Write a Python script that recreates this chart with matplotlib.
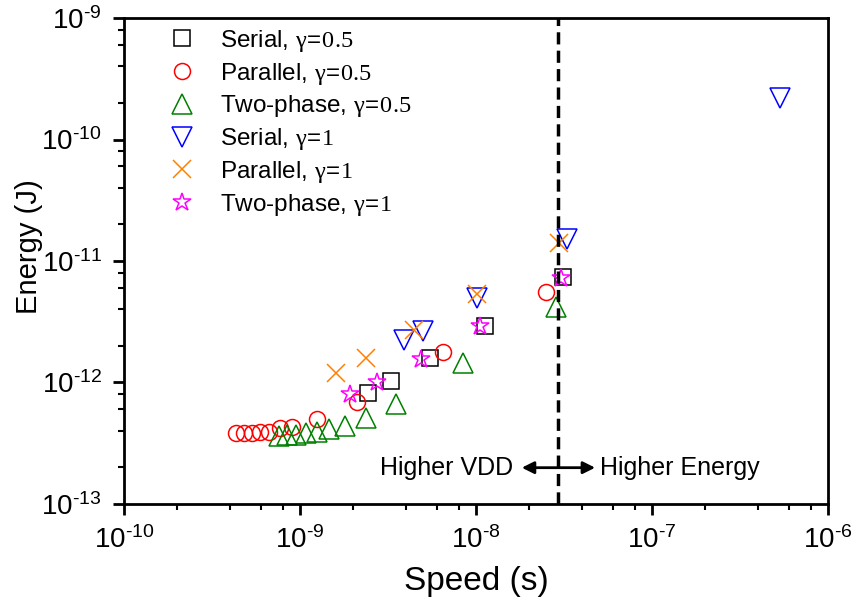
import math
import matplotlib
matplotlib.use("Agg")
import matplotlib.pyplot as plt
from matplotlib.ticker import LogLocator, NullFormatter, FuncFormatter

plt.rcParams["font.family"] = ["Liberation Sans", "DejaVu Sans"]
plt.rcParams["mathtext.fontset"] = "custom"
plt.rcParams["mathtext.rm"] = "Liberation Serif"
plt.rcParams["mathtext.default"] = "regular"

# speed (s) / energy (J)
serial_05_x = [2.43e-9, 3.29e-9, 5.48e-9, 1.12e-8, 3.12e-8]
serial_05_y = [8.15e-13, 1.02e-12, 1.58e-12, 2.92e-12, 7.38e-12]

parallel_05_x = [4.33e-10, 4.81e-10, 5.34e-10, 5.93e-10, 6.67e-10, 7.70e-10,
                 9.01e-10, 1.25e-9, 2.11e-9, 6.49e-9, 2.50e-8]
parallel_05_y = [3.86e-13, 3.86e-13, 3.86e-13, 3.91e-13, 3.94e-13, 4.20e-13,
                 4.33e-13, 5.05e-13, 6.95e-13, 1.77e-12, 5.59e-12]

twophase_05_x = [7.63e-10, 8.47e-10, 9.46e-10, 1.08e-9, 1.25e-9, 1.47e-9,
                 1.80e-9, 2.36e-9, 3.50e-9, 8.47e-9, 2.84e-8]
twophase_05_y = [3.63e-13, 3.70e-13, 3.70e-13, 3.82e-13, 3.94e-13, 4.12e-13,
                 4.38e-13, 5.07e-13, 6.65e-13, 1.44e-12, 4.16e-12]

serial_1_x = [3.90e-9, 5.02e-9, 1.01e-8, 3.28e-8, 5.32e-7]
serial_1_y = [2.24e-12, 2.65e-12, 4.99e-12, 1.51e-11, 2.20e-10]

parallel_1_x = [1.61e-9, 2.36e-9, 4.43e-9, 1.01e-8, 2.97e-8]
parallel_1_y = [1.19e-12, 1.58e-12, 2.70e-12, 5.35e-12, 1.41e-11]

twophase_1_x = [1.92e-9, 2.73e-9, 4.85e-9, 1.05e-8, 3.03e-8]
twophase_1_y = [8.04e-13, 1.00e-12, 1.57e-12, 2.92e-12, 7.21e-12]

# \! cancels the relation spacing mathtext puts around "="
LABELS = [r"Serial, $\mathrm{\gamma}\!=\!\mathrm{0.5}$",
          r"Parallel, $\mathrm{\gamma}\!=\!\mathrm{0.5}$",
          r"Two-phase, $\mathrm{\gamma}\!=\!\mathrm{0.5}$",
          r"Serial, $\mathrm{\gamma}\!=\!\mathrm{1}$",
          r"Parallel, $\mathrm{\gamma}\!=\!\mathrm{1}$",
          r"Two-phase, $\mathrm{\gamma}\!=\!\mathrm{1}$"]

BOUNDARY = 2.93e-8   # dashed divider
ARROW_Y = 1.99e-13


def pow_label(v, pos):
    # short hyphen in the exponent, like the original
    e = int(round(math.log10(v)))
    sign = "\u2010" if e < 0 else ""
    return "$10^{%s%d}$" % (sign, abs(e))


fig = plt.figure(figsize=(8.57, 6.03), dpi=100)
ax = fig.add_axes([0.1447, 0.1642, 0.8215, 0.8059])

series = [
    (serial_05_x, serial_05_y, "s", "black", 11),
    (parallel_05_x, parallel_05_y, "o", "red", 11.5),
    (twophase_05_x, twophase_05_y, "^", "green", 14),
    (serial_1_x, serial_1_y, "v", "blue", 14),
    (parallel_1_x, parallel_1_y, "x", "#ff8000", 13),
    (twophase_1_x, twophase_1_y, "*", "magenta", 13.5),
]
for (x, y, m, c, ms), lab in zip(series, LABELS):
    ax.plot(x, y, ls="none", marker=m, ms=ms, mfc="none", mec=c, mew=1.1,
            label=lab)

ax.axvline(BOUNDARY, color="black", lw=2.5, ls=(0, (3.5, 1.8)))

ax.annotate("", xy=(1.82e-8, ARROW_Y), xytext=(4.75e-8, ARROW_Y),
            arrowprops=dict(arrowstyle="<|-|>", color="black", lw=2,
                            mutation_scale=18, shrinkA=0, shrinkB=0))
ax.text(1.62e-8, ARROW_Y, "Higher VDD", ha="right", va="center", fontsize=18)
ax.text(5.07e-8, ARROW_Y, "Higher Energy", ha="left", va="center", fontsize=18)

ax.set_xscale("log")
ax.set_yscale("log")
ax.set_xlim(1e-10, 1e-6)
ax.set_ylim(1e-13, 1e-9)
for axis in (ax.xaxis, ax.yaxis):
    axis.set_major_locator(LogLocator(base=10, numticks=10))
    axis.set_major_formatter(FuncFormatter(pow_label))
    axis.set_minor_locator(LogLocator(base=10, subs=(2, 4, 6, 8), numticks=10))
    axis.set_minor_formatter(NullFormatter())

ax.tick_params(which="major", direction="out", length=8, width=2,
               labelsize=20, pad=8, top=False, right=False)
ax.tick_params(which="minor", direction="out", length=4.5, width=1.5,
               top=False, right=False)
for sp in ax.spines.values():
    sp.set_linewidth(2)

ax.set_xlabel("Speed (s)", fontsize=24, va="top")
ax.set_ylabel("Energy (J)", fontsize=21)
ax.xaxis.set_label_coords(0.5, -0.128)
ax.yaxis.set_label_coords(-0.115, 0.53)

ax.legend(loc="upper left", bbox_to_anchor=(0.05, 1.0), frameon=False,
          fontsize=17.5, handlelength=1.1, handletextpad=1.0, labelspacing=0.28,
          borderaxespad=0)

fig.savefig("out.png", dpi=100)
